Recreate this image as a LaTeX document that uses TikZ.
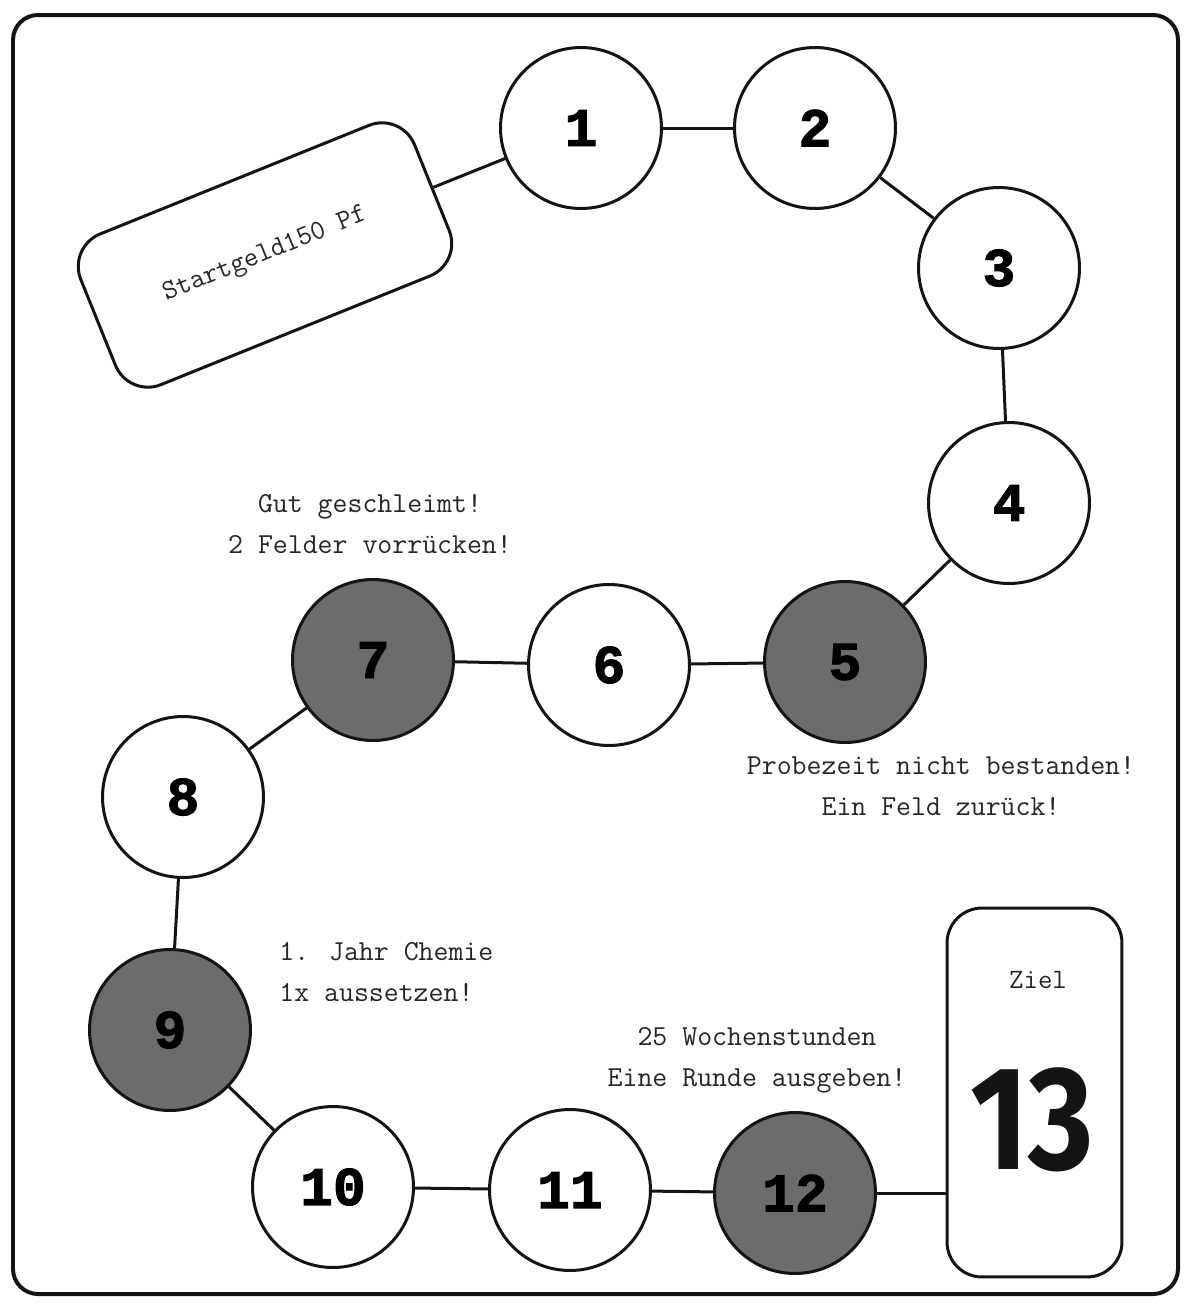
\documentclass[tikz,border=0pt]{standalone}
\usepackage{fontspec}
\newfontfamily\numfont[FakeBold=2]{Liberation Mono Bold}
\newfontfamily\bigfont{Fira Sans}
\definecolor{halftone}{RGB}{108,108,108}
\definecolor{ink}{RGB}{20,20,20}
\begin{document}
\begin{tikzpicture}[x=0.02cm,y=-0.02cm,
  line width=0.06cm, draw=ink,
  field/.style={circle, draw=ink, line width=0.06cm, minimum size=3.22cm, inner sep=0pt, fill=white,
    font=\numfont\fontsize{31}{31}\selectfont},
  darkfield/.style={field, fill=halftone},
  note/.style={align=center, text=black!85, font=\ttfamily\fontsize{16.5}{23.3}\selectfont},
  link/.style={line width=0.06cm, draw=ink}
]
\useasboundingbox (0,0) rectangle (1188,1305);
\draw[line width=0.08cm, rounded corners=0.5cm] (13,15) rectangle (1178,1294);

% fields
\node[field] (n1) at (581,128) {1};
\node[field] (n2) at (815,128) {2};
\node[field] (n3) at (999,268) {3};
\node[field] (n4) at (1009,503) {4};
\node[darkfield] (n5) at (845,662) {5};
\node[field] (n6) at (609,665) {6};
\node[darkfield] (n7) at (373,660) {7};
\node[field] (n8) at (183,797) {8};
\node[darkfield] (n9) at (170,1030) {9};
\node[field] (n10) at (333,1187) {10};
\node[field] (n11) at (570,1190) {11};
\node[darkfield] (n12) at (795,1193) {12};

% start box
\node[draw=ink, line width=0.06cm, rounded corners=0.7cm, minimum width=7.2cm, minimum height=3.25cm,
  rotate=22, font=\ttfamily\fontsize{16}{16}\selectfont, text=black!85] (start) at (265,255)
  {Startgeld150~Pf};

% goal box
\node[draw=ink, line width=0.06cm, rounded corners=0.7cm, minimum width=3.5cm, minimum height=7.38cm] (ziel) at (1034.5,1092.5) {};
\node[font=\ttfamily\fontsize{16}{16}\selectfont, text=black!85] (zieltext) at (1038,980) {Ziel};
\node[font=\bigfont\bfseries\fontsize{84}{84}\selectfont, xscale=0.85, text=ink] (dreizehn) at (1032,1120) {13};

% connectors
\draw[link] (start) -- (n1);
\draw[link] (n1) -- (n2);
\draw[link] (n2) -- (n3);
\draw[link] (n3) -- (n4);
\draw[link] (n4) -- (n5);
\draw[link] (n5) -- (n6);
\draw[link] (n6) -- (n7);
\draw[link] (n7) -- (n8);
\draw[link] (n8) -- (n9);
\draw[link] (n9) -- (n10);
\draw[link] (n10) -- (n11);
\draw[link] (n11) -- (n12);
\draw[link] (n12) -- (n12 -| ziel.west);

% notes
\node[note] (t7) at (370,524) {Gut geschleimt!\\2 Felder vorrücken!};
\node[note] (t5) at (941,786) {Probezeit nicht bestanden!\\Ein Feld zurück!};
\node[note, align=left, anchor=west] (t9) at (272,972) {1. Jahr Chemie\\1x aussetzen!};
\node[note] (t12) at (757,1060) {25 Wochenstunden\\Eine Runde ausgeben!};
\end{tikzpicture}
\end{document}
